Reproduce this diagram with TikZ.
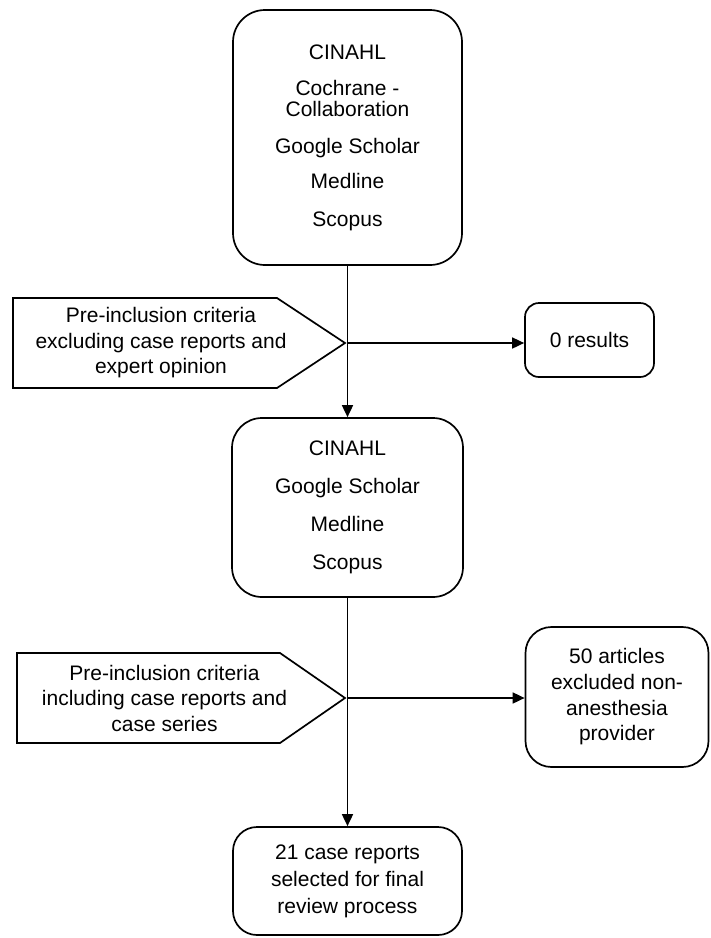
\documentclass[tikz,border=0pt]{standalone}
\usepackage{fontspec}
\setmainfont{Liberation Sans}
\usetikzlibrary{arrows.meta}
\begin{document}
\begin{tikzpicture}[x=1pt,y=-1pt,
  every node/.style={inner sep=0pt},
  box/.style={draw, line width=1.7pt, rounded corners=#1, align=center},
  box/.default=20pt,
  txt/.style={align=center, font=\fontsize{21}{25.5}\selectfont},
  shapeline/.style={draw, line width=1.7pt, line join=miter},
  conn/.style={line width=1.7pt},
  arr/.style={line width=1.7pt, -{Triangle[length=12pt,width=11pt]}}]
\useasboundingbox (0,0) rectangle (711,938);

% database boxes
\node[box=32pt, minimum width=229pt, minimum height=255pt, font=\fontsize{21}{21}\selectfont]
  (db1) at (347.5,137.5)
  {CINAHL\\[15pt]Cochrane -\\Collaboration\\[16pt]Google Scholar\\[14pt]Medline\\[17pt]Scopus};
\node[box=30pt, minimum width=231pt, minimum height=179pt, font=\fontsize{21}{21}\selectfont]
  (db2) at (347.5,507.5)
  {CINAHL\\[17pt]Google Scholar\\[17pt]Medline\\[17pt]Scopus};
\node[box=24pt, minimum width=229pt, minimum height=108pt, font=\fontsize{21}{27}\selectfont]
  (fin) at (347.5,881)
  {21 case reports\\selected for final\\review process};

% result boxes
\node[box=14pt, minimum width=129pt, minimum height=74pt, font=\fontsize{21}{25.5}\selectfont]
  (r1) at (589.5,340) {0 results};
\node[box=26pt, minimum width=183pt, minimum height=140pt, font=\fontsize{21}{25.7}\selectfont]
  (r2) at (617,697) {50 articles\\excluded non-\\anesthesia\\provider};

% criteria pentagons
\draw[shapeline] (13,298) -- (277,298) -- (345,343) -- (277,388) -- (13,388) -- cycle;
\node[txt] (c1) at (161,343) {Pre-inclusion criteria\\excluding case reports and\\expert opinion};
\draw[shapeline] (17,653) -- (280,653) -- (345,698) -- (280,743) -- (17,743) -- cycle;
\node[txt] (c2) at (164.5,698) {Pre-inclusion criteria\\including case reports and\\case series};

% connectors
\coordinate (j1) at (db1.south |- c1);
\coordinate (j2) at (db2.south |- c2);
\draw[arr] (db1.south) -- (db2.north);
\draw[arr] (db2.south) -- (fin.north);
\draw[arr] (j1) -- (j1 -| r1.west);
\draw[arr] (j2) -- (j2 -| r2.west);
\end{tikzpicture}
\end{document}
